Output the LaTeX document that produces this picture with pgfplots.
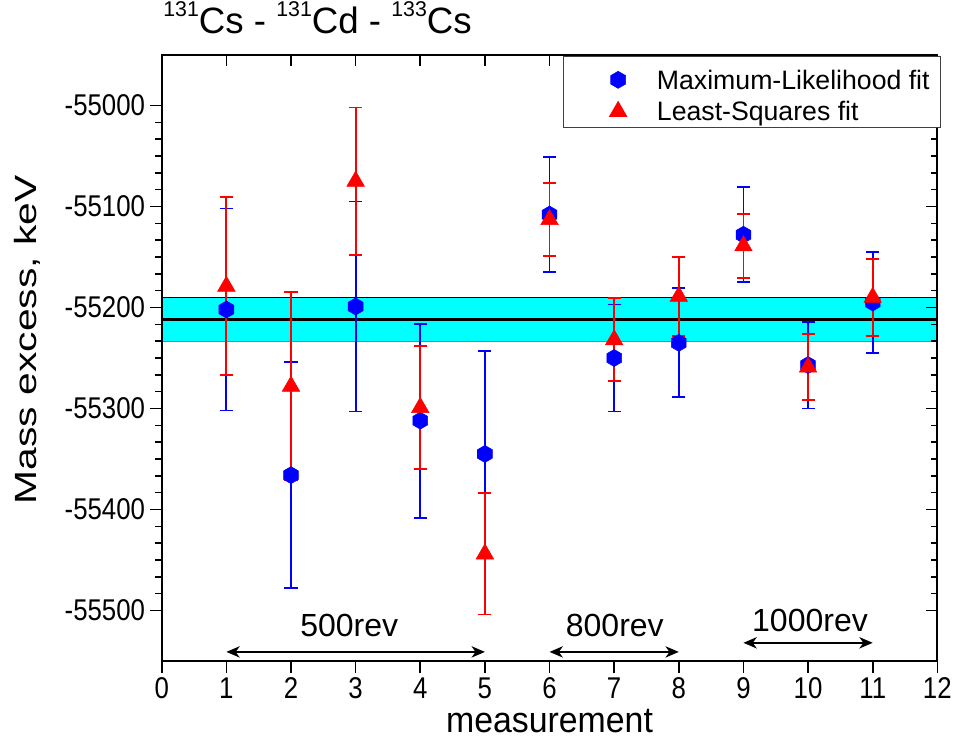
\documentclass[border=0pt]{standalone}
\usepackage{fontspec}
\setmainfont{Liberation Sans}
\newfontfamily\narrowfont[FakeStretch=0.86]{Liberation Sans}
\newfontfamily\ylabfont[FakeStretch=1.33]{Liberation Sans}
\newfontfamily\xlabfont[FakeStretch=0.94]{Liberation Sans}
\usepackage{pgfplots}
\pgfplotsset{compat=1.18}
\usetikzlibrary{arrows.meta}

\pgfdeclareplotmark{hexagon*}{%
  \pgfpathmoveto{\pgfqpointpolar{90}{\pgfplotmarksize}}%
  \pgfpathlineto{\pgfqpointpolar{150}{\pgfplotmarksize}}%
  \pgfpathlineto{\pgfqpointpolar{210}{\pgfplotmarksize}}%
  \pgfpathlineto{\pgfqpointpolar{270}{\pgfplotmarksize}}%
  \pgfpathlineto{\pgfqpointpolar{330}{\pgfplotmarksize}}%
  \pgfpathlineto{\pgfqpointpolar{30}{\pgfplotmarksize}}%
  \pgfpathclose
  \pgfusepathqfillstroke}

\pgfplotstableread{
x y e
1 -55202 100
2 -55366 112
3 -55199 104
4 -55312 96
5 -55345 102
6 -55108 57
7 -55250 53
8 -55235 54
9 -55128 47
10 -55257 43
11 -55195 50
}\mlfit

\pgfplotstableread{
x y e
1 -55179 88
2 -55278 93
3 -55075 73
4 -55299 61
5 -55444 60
6 -55113 36
7 -55232 41
8 -55189 39
9 -55139 32
10 -55259 33
11 -55190 38
}\lsfit

\definecolor{myblue}{RGB}{0,0,255}
\definecolor{myred}{RGB}{255,0,0}
\definecolor{mycyan}{RGB}{0,255,255}

\tikzset{revarrow/.style={{Stealth[length=10pt,width=8.5pt,inset=3pt]}-{Stealth[length=10pt,width=8.5pt,inset=3pt]}, line width=1.2pt}}

\begin{document}
\begin{tikzpicture}[x=1pt,y=1pt]
\path[use as bounding box] (0,0) rectangle (717,554.25);
\begin{axis}[
  at={(121.3pt,58.5pt)}, anchor=south west,
  scale only axis, width=581.7pt, height=454.5pt,
  xmin=0, xmax=12, ymin=-55550, ymax=-54950,
  scaled x ticks=false, scaled y ticks=false,
  xtick={0,1,2,3,4,5,6,7,8,9,10,11,12},
  xticklabels={0,1,2,3,4,5,6,7,8,9,10,11,12},
  ytick={-55500,-55400,-55300,-55200,-55100,-55000},
  yticklabels={-55500,-55400,-55300,-55200,-55100,-55000},
  minor y tick num=5,
  xtick pos=bottom, ytick pos=left, tick align=outside,
  major tick length=9pt, minor tick length=5pt,
  every tick/.append style={black, line width=1.2pt},
  axis line style={line width=1.5pt},
  tick label style={font=\narrowfont\fontsize{22.5}{22.5}\selectfont},
  xlabel={measurement},
  xlabel style={at={(axis description cs:0.5,-0.1188)}, anchor=base, font=\xlabfont\fontsize{27}{27}\selectfont},
  ylabel={Mass excess, keV},
  ylabel style={at={(axis description cs:-0.162,0.53)}, anchor=base, font=\ylabfont\fontsize{23}{23}\selectfont},
  title={{\fontsize{16}{16}\selectfont\raisebox{13pt}{131}}Cs - {\fontsize{16}{16}\selectfont\raisebox{13pt}{131}}Cd - {\fontsize{16}{16}\selectfont\raisebox{13pt}{133}}Cs},
  title style={at={(axis description cs:0.0017,1.022)}, anchor=base west, yshift=0pt, font=\fontsize{27.5}{27.5}\selectfont, inner sep=0pt},
]
\addplot[draw=none, fill=mycyan, forget plot] coordinates {(0,-55190) (12,-55190) (12,-55234) (0,-55234)} -- cycle;
\addplot[black, line width=0.8pt, forget plot] coordinates {(0,-55190) (12,-55190)};
\addplot[gray, line width=0.8pt, forget plot] coordinates {(0,-55234) (12,-55234)};
\addplot[black, line width=2.2pt, forget plot] coordinates {(0,-55212) (12,-55212)};

\addplot[only marks, mark=hexagon*, mark size=6.4pt, color=myblue,
  mark options={fill=myblue, draw=myblue, line width=0.4pt},
  error bars/.cd, y dir=both, y explicit,
  error bar style={line width=1.4pt, myblue},
  error mark options={rotate=90, mark size=4.9pt, line width=1.4pt, myblue}]
  table[x=x, y=y, y error=e] {\mlfit};

\addplot[only marks, mark=triangle*, mark size=7.6pt, color=myred,
  mark options={fill=myred, draw=myred, line width=0.4pt},
  error bars/.cd, y dir=both, y explicit,
  error bar style={line width=1.4pt, myred},
  error mark options={rotate=90, mark size=4.9pt, line width=1.4pt, myred}]
  table[x=x, y=y, y error=e] {\lsfit};

\draw[revarrow] (axis cs:1,-55541) -- (axis cs:5,-55541);
\draw[revarrow] (axis cs:6,-55541) -- (axis cs:8,-55541);
\draw[revarrow] (axis cs:9,-55532) -- (axis cs:11,-55532);
\node[anchor=base, font=\fontsize{24}{24}\selectfont] at (axis cs:2.9,-55526) {500rev};
\node[anchor=base, font=\fontsize{24}{24}\selectfont] at (axis cs:7.01,-55526) {800rev};
\node[anchor=base, font=\fontsize{24}{24}\selectfont] at (axis cs:10.03,-55521) {1000rev};
\end{axis}

\begin{axis}[
  at={(121.3pt,58.5pt)}, anchor=south west,
  scale only axis, width=581.7pt, height=454.5pt,
  xmin=0, xmax=12, ymin=-55550, ymax=-54950,
  scaled x ticks=false, scaled y ticks=false,
  xtick={0,1,2,3,4,5,6,7,8,9,10,11,12},
  ytick={-55500,-55400,-55300,-55200,-55100,-55000},
  minor y tick num=5,
  xticklabels={}, yticklabels={},
  xtick pos=top, ytick pos=right, tick align=inside,
  major tick length=8.5pt, minor tick length=4.5pt,
  every tick/.append style={black, line width=1.2pt},
  axis line style={line width=1.5pt},
  legend image code/.code={\path (0pt,-2pt) (69pt,2pt); \draw[#1] plot coordinates {(40.3pt,-2.6pt)};},
  legend cell align=left,
  legend style={at={(axis description cs:0.5178,0.9983)}, anchor=north west,
    draw=black!75, line width=0.8pt, fill=white,
    inner xsep=0pt, inner ysep=3pt, row sep=0pt, column sep=0pt,
    font=\fontsize{20}{20}\selectfont,
    nodes={inner sep=0pt, text height=21.5pt, text depth=2.2pt}},
]
\addlegendimage{mark=hexagon*, mark size=6.4pt, color=myblue, mark options={fill=myblue, draw=myblue, line width=0.4pt}}
\addlegendentry{Maximum-Likelihood fit\hspace*{8pt}}
\addlegendimage{mark=triangle*, mark size=7.6pt, color=myred, mark options={fill=myred, draw=myred, line width=0.4pt}}
\addlegendentry{Least-Squares fit}
\end{axis}
\end{tikzpicture}
\end{document}
